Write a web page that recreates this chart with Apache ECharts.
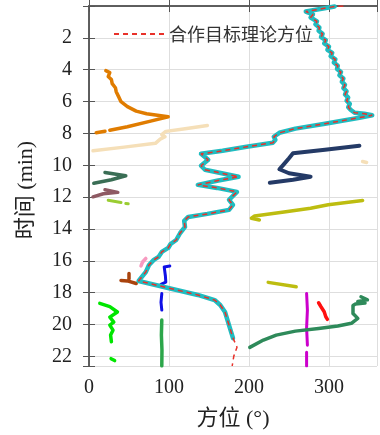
<!DOCTYPE html>
<html>
<head>
<meta charset="utf-8">
<script src="https://cdn.jsdelivr.net/npm/echarts@6/dist/echarts.min.js"></script>
<style>html,body{margin:0;padding:0;background:#fff;}#c{width:380px;height:435px;}</style>
</head>
<body>
<div id="c"></div>
<script>
// ---- data: [bearing (deg), time (min)] ----
const xTicks = [0, 100, 200, 300];
const yTicks = [2, 4, 6, 8, 10, 12, 14, 16, 18, 20, 22];

const mainTrack = [
  [307,0.03],[271,0.35],[280,0.53],[277,0.72],[285,0.97],[283,1.15],[288,1.35],[287,1.55],[292,1.75],[290,1.95],
  [296,2.15],[294,2.35],[300,2.55],[298,2.75],[304,2.95],[302,3.15],[308,3.35],[306,3.55],[311,3.75],[310,3.95],
  [315,4.15],[313,4.35],[318,4.55],[316,4.75],[320,4.95],[318,5.15],[322,5.35],[320,5.55],[324,5.75],[322,5.95],
  [326,6.15],[324,6.35],[327,6.51],[332,6.70],[344,6.76],[354,6.86],[338,7.01],[295,7.39],[258,7.70],[238,7.96],
  [231,8.21],[233,8.40],[230,8.58],[197,8.84],[167,9.09],[140,9.28],[149,9.65],[140,10.03],[145,10.28],[187,10.72],
  [160,10.97],[136,11.23],[160,11.42],[185,11.67],[180,11.92],[175,12.17],[180,12.48],[175,12.80],[148,13.05],[124,13.24],
  [119,13.49],[120,13.87],[114,14.25],[109,14.69],[102,14.94],[99,15.19],[91,15.44],[87,15.75],[81,15.94],[75,16.26],
  [71,16.70],[62,17.26],[99,17.70],[136,18.14],[157,18.46],[164,18.77],[170,19.21],[175,20.03],[180,20.85]
];
const theoryHead = [[318,0]];
const theoryTail = [[185,21.42],[181,21.98],[179,22.6]];

const orangeTrack = [[21,4.06],[26,4.18],[24,4.43],[28,4.62],[29,4.87],[33,5.13],[34,5.38],[37,5.69],[40,6.01],[48,6.32],
  [59,6.60],[72,6.76],[99,6.95],[77,7.23],[48,7.58],[26,7.80],null,[20,7.86],[9,7.96]];
const wheatTrack = [[148,7.50],[118,7.72],[96,7.87],[91,8.08],[95,8.21],[89,8.36],[83,8.62],[44,8.86],[5,9.09],null,[342,9.76],[347,9.82]];
const darkGreenTrack = [[20,10.45],[46,10.66],[28,10.91],[6,11.13]];
const mauveTrack = [[20,11.54],[36,11.70],[18,11.79],[5,11.98]];
const yellowGreenTrack = [[24,12.20],[40,12.33],null,[46,12.40],[49,12.42]];
const navyTrack = [[338,8.77],[295,9.03],[255,9.25],[250,9.56],[244,9.91],[238,10.25],[250,10.50],[277,10.72],[255,10.91],[226,11.10]];
const oliveTrack = [[342,12.21],[299,12.48],[277,12.70],[246,12.91],[207,13.18],[203,13.32],[213,13.43],null,[224,17.35],[259,17.62]];
const pinkTrack = [[71,15.85],[67,16.07],[65,16.32]];
const brownTrack = [[50,16.79],[50,17.14],null,[40,17.23],[48,17.26],[59,17.42]];
const blueTrack = [[101,16.32],[94,16.38],[95.5,16.95],[96,17.33],[90,17.48],null,[91,18.05],[90,18.6],[91,19.09]];
const limeTrack = [[13.5,18.67],[26,18.87],[35.5,19.21],[26,19.53],[31,19.84],[26,20.03],[30,20.35],[27,20.66],[28,21.08],null,[27.6,22.14],[32,22.26]];
const greenTrack = [[91,19.72],[90.5,20.66],[91.2,21.6],[91,22.6]];
const magentaTrack = [[272,18.05],[273,19.09],[272,20.22],[273,21.29],null,[272,21.73],[272,22.6]];
const redTrack = [[287,18.63],[290,18.88],[294,19.19],[296,19.51],[298,19.67]];
const seaGreenTrack = [[340,18.25],[348,18.45],[336,18.55],[345,18.65],[333,18.71],[330,18.8],[330,19.3],[336,19.61],[328,19.92],
  [311,20.09],[287,20.24],[258,20.41],[234,20.66],[218,20.97],[201,21.43]];

const serif = "'Liberation Serif', 'Noto Sans CJK SC', serif";
const cjk = "'Noto Sans CJK SC', sans-serif";

function track(data, color, width) {
  return { type: 'line', data: data, symbol: 'none', silent: true, connectNulls: false,
    lineStyle: { color: color, width: width || 3.5, cap: 'round', join: 'round' }, z: 2 };
}

const axisLine = { show: true, lineStyle: { color: '#555', width: 1.5 } };
const axisTick = { show: true, inside: true, length: 6, lineStyle: { color: '#555', width: 1 } };

const chart = echarts.init(document.getElementById('c'), null, { renderer: 'canvas' });
chart.setOption({
  animation: false,
  backgroundColor: '#fff',
  grid: { left: 89, top: 6, width: 294, height: 360 },
  legend: {
    data: ['合作目标理论方位'], left: 113, top: 25, padding: 0, itemWidth: 50, itemHeight: 14, itemGap: 5,
    itemStyle: { opacity: 0 },
    textStyle: { fontSize: 18, fontFamily: cjk, color: '#333' }
  },
  xAxis: [
    { type: 'value', position: 'bottom', min: 0, max: 360, interval: 100,
      name: '方位 (°)', nameLocation: 'middle', nameGap: 42,
      nameTextStyle: { fontSize: 22, fontFamily: serif, color: '#222' },
      axisLine: axisLine, axisTick: axisTick,
      axisLabel: { fontSize: 20, fontFamily: serif, color: '#222', margin: 12,
        formatter: v => xTicks.indexOf(v) >= 0 ? String(v) : '' },
      splitLine: { show: true, lineStyle: { color: '#dedede', width: 1 } } },
    { type: 'value', position: 'top', min: 0, max: 360, interval: 100,
      axisLine: axisLine, axisTick: axisTick, axisLabel: { show: false }, splitLine: { show: false } }
  ],
  yAxis: [
    { type: 'value', position: 'left', inverse: true, min: 0, max: 22.6, interval: 2,
      name: '时间 (min)', nameLocation: 'middle', nameGap: 52, nameRotate: 90,
      nameTextStyle: { fontSize: 22, fontFamily: serif, color: '#222', padding: [0, 8, 0, 0] },
      axisLine: axisLine, axisTick: axisTick,
      axisLabel: { fontSize: 20, fontFamily: serif, color: '#222', margin: 17,
        formatter: v => yTicks.indexOf(v) >= 0 ? String(v) : '' },
      splitLine: { show: true, lineStyle: { color: '#dedede', width: 1 } } },
    { type: 'value', position: 'right', inverse: true, min: 0, max: 22.6, interval: 2,
      axisLine: axisLine, axisTick: axisTick, axisLabel: { show: false }, splitLine: { show: false } }
  ],
  series: [
    track(orangeTrack, '#e07c00'),
    track(wheatTrack, '#f5dfb8'),
    track(darkGreenTrack, '#3a6e55'),
    track(mauveTrack, '#8e5a63'),
    track(yellowGreenTrack, '#9acd32', 3),
    track(navyTrack, '#243a66', 4),
    track(oliveTrack, '#bdbd10'),
    track(pinkTrack, '#f79ac0'),
    track(brownTrack, '#a9430d'),
    track(blueTrack, '#1010e6', 3),
    track(limeTrack, '#00e600'),
    track(greenTrack, '#2ca64a'),
    track(magentaTrack, '#cc00cc', 3),
    track(redTrack, '#ff1010'),
    track(seaGreenTrack, '#2e8a5a'),
    Object.assign(track(mainTrack, '#20bcc0', 4.5), { z: 3 }),
    { name: '合作目标理论方位', type: 'line', symbol: 'none', silent: true, z: 4,
      itemStyle: { color: '#e8312a' },
      data: theoryHead.concat(mainTrack, theoryTail),
      lineStyle: { color: '#e8312a', width: 1.5, type: [5, 4] } }
  ]
});
</script>
</body>
</html>
